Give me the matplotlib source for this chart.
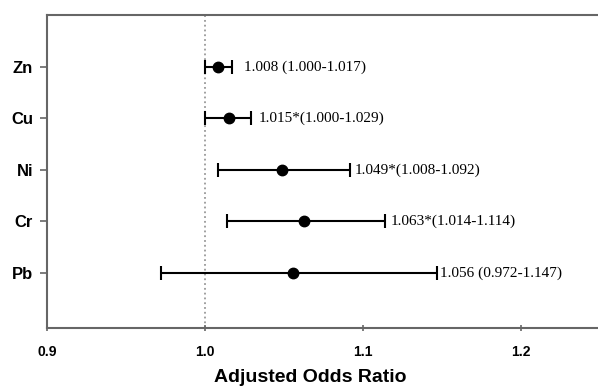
import matplotlib
matplotlib.use("Agg")
import matplotlib.pyplot as plt

metals = ["Zn", "Cu", "Ni", "Cr", "Pb"]
odds = [1.008, 1.015, 1.049, 1.063, 1.056]
lower = [1.000, 1.000, 1.008, 1.014, 0.972]
upper = [1.017, 1.029, 1.092, 1.114, 1.147]
labels = ["1.008 (1.000-1.017)", "1.015*(1.000-1.029)", "1.049*(1.008-1.092)",
          "1.063*(1.014-1.114)", "1.056 (0.972-1.147)"]
xticks = [0.9, 1.0, 1.1, 1.2]

fig = plt.figure(figsize=(5.98, 3.88), dpi=100)
ax = fig.add_axes([47/598, 1 - 328/388, 1 - 47/598, (328 - 15)/388])

ypos = list(range(1, len(metals) + 1))
xerr = [[o - l for o, l in zip(odds, lower)], [u - o for o, u in zip(odds, upper)]]
ax.errorbar(odds, ypos, xerr=xerr, fmt="o", color="black", ms=7.5, capsize=5,
            elinewidth=1.5, capthick=1.5)
ax.axvline(1.0, color="#999999", linestyle=":", linewidth=1.3, zorder=0)

gaps = [9, 6, 3, 4, 2]
for y, u, t, g in zip(ypos, upper, labels, gaps):
    ax.annotate(t, (u, y), xytext=(g, 0), textcoords="offset points",
                va="center", ha="left", fontsize=11, family="Liberation Serif")

ax.set_xlim(0.9, 1.249)
ax.set_ylim(6.07, -0.01)
ax.set_yticks(ypos)
ax.set_yticklabels(metals, fontsize=12, fontweight="bold", family="Liberation Sans")
ax.set_xticks(xticks)
ax.set_xticklabels([f"{v:.1f}" for v in xticks], fontsize=10, fontweight="bold",
                   family="Liberation Sans")
ax.tick_params(axis="y", length=5, width=1.2, color="#666666", pad=5)
ax.tick_params(axis="x", length=4, width=1.2, direction="inout", color="#666666", pad=10)
for s in ["left", "bottom", "top"]:
    ax.spines[s].set_color("#666666")
    ax.spines[s].set_linewidth(1.5)
ax.spines["right"].set_visible(False)
ax.set_xlabel("Adjusted Odds Ratio", fontsize=14, fontweight="bold",
              family="Liberation Sans")
ax.xaxis.set_label_coords((310 - 47) / (598 - 47), -(378 - 328) / (328 - 15))
ax.xaxis.label.set_va("center")

fig.savefig("out.png", dpi=100)
